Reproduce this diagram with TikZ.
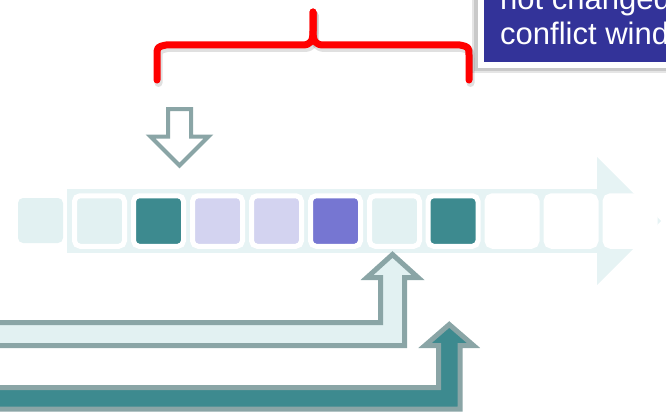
\documentclass[tikz,border=0pt]{standalone}
\usepackage{fontspec}
\setmainfont{Liberation Sans}
\definecolor{bandc}{HTML}{E6F3F4}
\definecolor{lightc}{HTML}{E2F1F2}
\definecolor{tealc}{HTML}{3D8A8F}
\definecolor{lavc}{HTML}{D3D3F0}
\definecolor{purplec}{HTML}{7676D2}
\definecolor{edgec}{HTML}{8AA5A6}
\definecolor{boxc}{HTML}{333399}
\begin{document}
\begin{tikzpicture}[x=1pt,y=-1pt,
  cell/.style={draw=white, line width=5pt, rounded corners=5.5pt,
    minimum width=50pt, minimum height=50.5pt, inner sep=0pt},
  pointer/.style={draw=edgec, line width=5pt, miter limit=10},
  brace/.style={draw=red, line width=7pt, line cap=round, line join=round},
  braceshadow/.style={draw=black, opacity=0.12, line width=8pt, line cap=round, line join=round},
  boxtext/.style={anchor=base west, inner sep=0pt, text=white,
    font=\fontsize{31}{35}\selectfont}]
\useasboundingbox (0,0) rectangle (666,412);
\clip (0,0) rectangle (666,412);

% background timeline arrow
\fill[bandc] (67,189) rectangle (598,253);
\fill[bandc] (597,157) -- (661,221) -- (597,285) -- cycle;

% leading slot outside the timeline
\node[fill=lightc, rounded corners=5pt, minimum size=45pt, inner sep=0pt] (c0) at (40.5,220.5) {};

% slots on the timeline
\node[cell, fill=lightc]  (c1)  at (99.5,221)  {};
\node[cell, fill=tealc]   (c2)  at (158.5,221) {};
\node[cell, fill=lavc]    (c3)  at (217.5,221) {};
\node[cell, fill=lavc]    (c4)  at (276.5,221) {};
\node[cell, fill=purplec] (c5)  at (335.5,221) {};
\node[cell, fill=lightc]  (c6)  at (394.5,221) {};
\node[cell, fill=tealc]   (c7)  at (453,221)   {};
\node[cell, fill=white]   (c8)  at (512,221)   {};
\node[cell, fill=white]   (c9)  at (571,221)   {};
\node[cell, fill=white]   (c10) at (630,221)   {};

% hollow pointer above the timeline
\draw[pointer, line width=4pt, fill=white]
  (168,109) -- (191,109) -- (191,136.5) -- (208.5,136.5) -- (179.5,165.5)
  -- (150.5,136.5) -- (168,136.5) -- cycle;

% bent pointers from below
\draw[pointer, fill=lightc]
  (-10,322.5) -- (380.5,322.5) -- (380.5,277.5) -- (367,277.5) -- (392.5,254.5)
  -- (418,277.5) -- (404.5,277.5) -- (404.5,345.5) -- (-10,345.5) -- cycle;
\draw[pointer, fill=tealc]
  (-10,387.5) -- (438.5,387.5) -- (438.5,345.5) -- (425,345.5) -- (449.25,324.5)
  -- (473.5,345.5) -- (460,345.5) -- (460,409) -- (-10,409) -- cycle;

% red curly brace with soft shadow
\begin{scope}[shift={(1.5,3)}]
  \draw[braceshadow] (157,80) -- (157,56) .. controls (157,47) .. (166,45) -- (302,45)
    .. controls (311,45) and (313,41) .. (313,31) -- (313,12);
  \draw[braceshadow] (313,12) -- (313,31) .. controls (313,41) and (315,45) .. (324,45)
    -- (460,45) .. controls (469,47) .. (469,56) -- (469,80);
\end{scope}
\draw[brace] (157,80) -- (157,56) .. controls (157,47) .. (166,45) -- (302,45)
  .. controls (311,45) and (313,41) .. (313,31) -- (313,12);
\draw[brace] (313,12) -- (313,31) .. controls (313,41) and (315,45) .. (324,45)
  -- (460,45) .. controls (469,47) .. (469,56) -- (469,80);

% callout box
\fill[black, opacity=0.10] (472,-20) rectangle (700,73);
\fill[black, opacity=0.12] (474,-20) rectangle (700,71);
\draw[white, line width=6pt, fill=boxc] (481,-20) rectangle (700,65);
\node[boxtext] (tline1) at (500,10) {not changed};
\node[boxtext] (tline2) at (500,45) {conflict wind};
\end{tikzpicture}
\end{document}
